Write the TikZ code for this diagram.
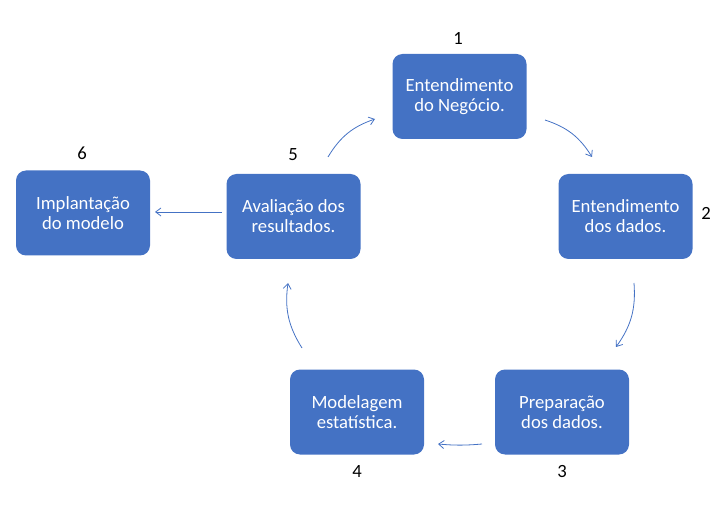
\documentclass[tikz,border=0pt]{standalone}
\usepackage{fontspec}
\setmainfont{Carlito}
\usetikzlibrary{arrows.meta}
\definecolor{boxblue}{HTML}{4472C4}
\tikzset{
  stepbox/.style={fill=boxblue, draw=none, rounded corners=7.5pt, minimum width=100.5pt, minimum height=63.75pt, text=white, align=center, font=\fontsize{14}{15}\selectfont, inner sep=0pt},
  numlabel/.style={text=black, font=\fontsize{14}{15}\selectfont, inner sep=0pt},
  flow/.style={draw=boxblue, line width=0.6pt, -{Straight Barb[length=4pt,width=6pt]}}
}
\begin{document}
\begin{tikzpicture}[x=0.75pt,y=-0.75pt]
\useasboundingbox (0,0) rectangle (722,506);
\node[stepbox] (b1) at (459.5,96.5) {Entendimento\\do Negócio.};
\node[stepbox] (b2) at (625.5,216.5) {Entendimento\\dos dados.};
\node[stepbox] (b3) at (562,412) {Preparação\\dos dados.};
\node[stepbox] (b4) at (357,412) {Modelagem\\estatística.};
\node[stepbox] (b5) at (293.5,216.5) {Avaliação dos\\resultados.};
\node[stepbox] (b6) at (83,213) {Implantação\\do modelo};
\node[numlabel] (n1) at (458,38) {1};
\node[numlabel] (n2) at (706,213) {2};
\node[numlabel] (n3) at (562,472) {3};
\node[numlabel] (n4) at (357,472) {4};
\node[numlabel] (n5) at (293,155) {5};
\node[numlabel] (n6) at (82,153) {6};
\coordinate (a1s) at (545,120);
\coordinate (a1e) at (592,157);
\coordinate (a2s) at (634,283);
\coordinate (a2e) at (616,347);
\coordinate (a3s) at (482,444);
\coordinate (a3e) at (438,444);
\coordinate (a4s) at (302,348);
\coordinate (a4e) at (288,283);
\coordinate (a5s) at (328,157);
\coordinate (a5e) at (375,119);
\coordinate (a6s) at (222,212);
\coordinate (a6e) at (155,212);
\draw[flow] (a1s) to[bend left=20] (a1e);
\draw[flow] (a2s) to[bend left=20] (a2e);
\draw[flow] (a3s) to[bend left=5] (a3e);
\draw[flow] (a4s) to[bend left=20] (a4e);
\draw[flow] (a5s) to[bend left=20] (a5e);
\draw[flow] (a6s) -- (a6e);
\end{tikzpicture}
\end{document}
